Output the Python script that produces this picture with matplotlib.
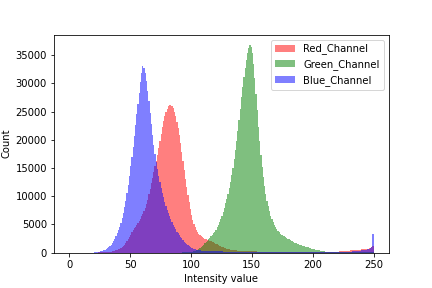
import numpy as np
import matplotlib
matplotlib.use("Agg")
import matplotlib.pyplot as plt

# pixel counts per intensity value 0..249

blue_counts = [0] * 20 + [
    30, 50, 80, 110, 150, 200, 260, 330, 420, 520,
    640, 780, 950, 1150, 1400, 1700, 2050, 2450, 2900, 3400,
    4000, 4600, 5300, 6100, 7000, 8000, 9200, 10500, 12000, 13600,
    15300, 17000, 18800, 20700, 22600, 24500, 26400, 28300, 30200, 31800,
    33000, 32700, 31800, 30400, 28700, 26800, 24800, 22800, 20900, 19100,
    17500, 16100, 14800, 13600, 12500, 11500, 10600, 9800, 9000, 8300,
    7600, 7000, 6400, 5900, 5400, 4900, 4500, 4100, 3700, 3400,
    3100, 2800, 2500, 2200, 1950, 1700, 1500, 1300, 1150, 1000,
    880, 780, 690, 610, 540, 480, 430, 390, 350, 320,
    300, 290, 280, 270, 260, 250, 240, 235, 230, 225,
    220, 215, 210, 205, 200, 195, 190, 185, 180, 175,
    170, 165, 160, 160, 155, 150, 150, 145, 140, 140,
    135, 135, 130, 130, 125, 125, 120, 120, 115, 115,
    110, 110, 110, 105, 105, 100, 100, 100, 95, 95,
    95, 90, 90, 90, 90, 85, 85, 85, 85, 80,
    80, 80, 80, 80, 75, 75, 75, 75, 75, 70,
    70, 70, 70, 70, 70, 70, 65, 65, 65, 65,
    65, 65, 65, 65, 65, 65, 65, 65, 65, 65,
    65, 65, 65, 65, 65, 70, 70, 70, 70, 70,
    70, 75, 75, 75, 80, 80, 85, 85, 90, 95,
    100, 105, 110, 115, 120, 130, 140, 150, 160, 170,
    180, 190, 200, 215, 230, 250, 270, 290, 310, 340,
    370, 400, 440, 480, 530, 600, 690, 800, 1000, 3300,
]

red_counts = [0] * 20 + [
    0, 0, 5, 10, 15, 20, 30, 40, 50, 65,
    80, 100, 125, 155, 190, 230, 280, 340, 410, 490,
    580, 680, 800, 950, 1150, 1400, 1700, 2050, 2400, 2800,
    3200, 3600, 3950, 4300, 4600, 4900, 5250, 5600, 6000, 6400,
    6800, 7300, 7900, 8600, 9400, 10300, 11300, 12300, 13300, 14300,
    15300, 16300, 17300, 18500, 19800, 21000, 22200, 23300, 24200, 24900,
    25500, 25900, 26100, 26200, 26000, 25600, 25000, 24200, 23200, 22100,
    20800, 19400, 17900, 16300, 14700, 13100, 11600, 10200, 8900, 7700,
    6700, 5800, 5100, 4500, 4000, 3600, 3300, 3050, 2850, 2700,
    2580, 2480, 2390, 2300, 2220, 2140, 2050, 1950, 1840, 1720,
    1600, 1480, 1360, 1250, 1140, 1040, 950, 860, 780, 710,
    650, 590, 540, 500, 460, 430, 400, 370, 350, 330,
    310, 290, 280, 270, 260, 250, 240, 230, 220, 215,
    210, 205, 200, 195, 190, 185, 180, 175, 170, 165,
    160, 155, 150, 145, 140, 135, 130, 130, 125, 125,
    120, 120, 115, 115, 110, 110, 110, 105, 105, 105,
    100, 100, 100, 100, 100, 100, 100, 100, 100, 100,
    100, 100, 100, 100, 100, 100, 100, 100, 100, 100,
    100, 100, 100, 105, 105, 105, 110, 110, 110, 115,
    115, 120, 120, 125, 130, 135, 140, 150, 160, 170,
    180, 190, 200, 215, 230, 250, 270, 290, 310, 330,
    350, 370, 390, 410, 430, 450, 470, 490, 510, 530,
    550, 570, 600, 630, 660, 700, 750, 820, 950, 1100,
]

green_counts = [0] * 90 + [
    5, 8, 12, 18, 25, 33, 42, 55, 70, 85,
    100, 150, 200, 280, 380, 500, 650, 800, 980, 1180,
    1400, 1620, 1850, 2100, 2350, 2600, 2850, 3100, 3400, 3700,
    4050, 4450, 4900, 5400, 5950, 6550, 7200, 7900, 8700, 9500,
    10400, 11400, 12500, 13700, 15000, 16500, 18100, 19800, 21600, 23500,
    25500, 27500, 29400, 31200, 32800, 34200, 35400, 36300, 36800, 36500,
    35400, 33400, 30900, 28100, 25200, 22300, 19700, 17300, 15200, 13400,
    11800, 10400, 9200, 8200, 7300, 6550, 5900, 5350, 4900, 4500,
    4150, 3850, 3600, 3380, 3200, 3030, 2880, 2740, 2600, 2470,
    2340, 2220, 2100, 1990, 1880, 1780, 1680, 1590, 1500, 1410,
    1330, 1250, 1170, 1100, 1030, 960, 900, 840, 780, 720,
    660, 600, 540, 480, 430, 380, 330, 290, 250, 220,
    190, 165, 145, 125, 110, 95, 85, 75, 65, 60,
    55, 50, 45, 45, 40, 40, 40, 40, 40, 40,
    40, 40, 40, 40, 40, 45, 45, 50, 50, 55,
    60, 60, 65, 70, 75, 80, 90, 100, 120, 150,
]

intensity = np.arange(len(red_counts))
edges = np.arange(len(red_counts) + 1)

plt.figure(figsize=(6, 4), dpi=72)
plt.hist(intensity, bins=edges, weights=red_counts, color='red', alpha=0.5, label='Red_Channel')
plt.hist(intensity, bins=edges, weights=green_counts, color='green', alpha=0.5, label='Green_Channel')
plt.hist(intensity, bins=edges, weights=blue_counts, color='blue', alpha=0.5, label='Blue_Channel')
plt.xlabel('Intensity value')
plt.ylabel('Count')
plt.legend(loc='upper right')
plt.subplots_adjust(bottom=0.123)
plt.savefig('out.png', dpi=72)
